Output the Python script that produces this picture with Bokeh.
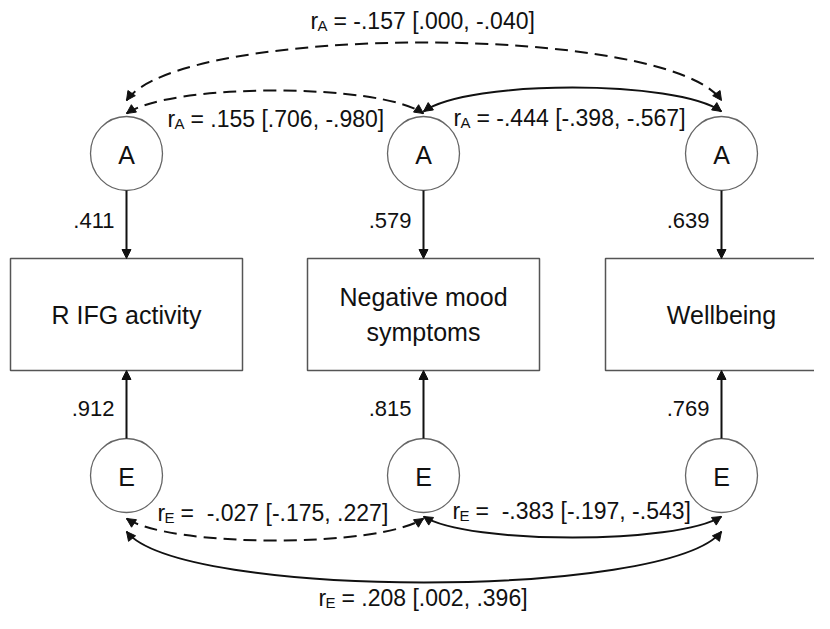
import numpy as np
from bokeh.plotting import figure
from bokeh.models import Range1d, Arrow, NormalHead
from bokeh.core.properties import value
from bokeh.embed import file_html
from bokeh.resources import INLINE

# ---------------- data ----------------
phenotypes = ["R IFG activity", "Negative mood\nsymptoms", "Wellbeing"]
a_paths = [0.411, 0.579, 0.639]
e_paths = [0.912, 0.815, 0.769]

rA_pairs = [(0, 2), (0, 1), (1, 2)]
rA_est = [-0.157, 0.155, -0.444]
rA_ci_lo = [0.000, 0.706, -0.398]
rA_ci_hi = [-0.040, -0.980, -0.567]
rA_significant = [False, False, True]

rE_pairs = [(0, 1), (1, 2), (0, 2)]
rE_est = [-0.027, -0.383, 0.208]
rE_ci_lo = [-0.175, -0.197, 0.002]
rE_ci_hi = [0.227, -0.543, 0.396]
rE_significant = [False, True, True]

# ---------------- layout ----------------
col_x = [126, 423, 721]
a_y, e_y, node_r = 153, 475, 36
box_y, box_w, box_h = 314, 232, 112
FONT = "Liberation Sans"
INK = "#111111"

# arc geometry: end y, peak y, label (x, y), control spread
rA_geom = [(100, 42, 310, 20, 0.09), (113, 90, 167, 118, 0.15), (111, 87, 453, 117, 0.15)]
rE_geom = [(518, 540, 157, 512, 0.15), (516, 537, 452, 510, 0.15), (531, 582, 318, 597, 0.09)]
rE_eq = ["=\u00a0 ", "=\u00a0 ", "= "]
rA_eq = ["= ", "= ", "= "]


def fmt(v):
    s = f"{v:.3f}"
    return s.replace("0.", ".", 1)


p = figure(width=814, height=613, output_backend="svg", toolbar_location=None,
           x_range=Range1d(0, 814), y_range=Range1d(613, 0),
           x_axis_type=None, y_axis_type=None, min_border=0)
p.grid.visible = False
p.outline_line_color = None
p.background_fill_color = "white"

# boxes
p.rect(x=col_x, y=[box_y] * 3, width=box_w, height=box_h, fill_color="white",
       line_color="#555555", line_width=1.5)
p.text(x=col_x, y=[box_y] * 3, text=phenotypes, text_align="center",
       text_baseline="middle", text_font=value(FONT), text_font_size="25px",
       text_color=INK, text_line_height=1.28)

# latent nodes
for yy, lab in [(a_y, "A"), (e_y, "E")]:
    p.ellipse(x=col_x, y=[yy] * 3, width=2 * node_r, height=2 * node_r + 2,
              fill_color="white", line_color="#666666", line_width=1.3)
    p.text(x=col_x, y=[yy + 1] * 3, text=[lab] * 3, text_align="center",
           text_baseline="middle", text_font=value(FONT), text_font_size="25px",
           text_color=INK)

# vertical paths
for i, cx in enumerate(col_x):
    p.add_layout(Arrow(x_start=cx, y_start=a_y + node_r + 1, x_end=cx, y_end=box_y - box_h / 2,
                       line_width=2, line_color=INK,
                       end=NormalHead(size=9, fill_color=INK, line_color=INK)))
    p.add_layout(Arrow(x_start=cx, y_start=e_y - node_r - 1, x_end=cx, y_end=box_y + box_h / 2,
                       line_width=2, line_color=INK,
                       end=NormalHead(size=9, fill_color=INK, line_color=INK)))
p.text(x=[c - 12 for c in col_x], y=[220] * 3, text=[fmt(v) for v in a_paths],
       text_align="right", text_baseline="middle", text_font=value(FONT),
       text_font_size="22px", text_color=INK)
p.text(x=[c - 12 for c in col_x], y=[408] * 3, text=[fmt(v) for v in e_paths],
       text_align="right", text_baseline="middle", text_font=value(FONT),
       text_font_size="22px", text_color=INK)


def arc(i0, i1, y_end, peak, dashed, k):
    x0, x1 = col_x[i0], col_x[i1]
    cy = (8 * peak - 2 * y_end) / 6
    dx = k * (x1 - x0)
    cx0, cx1 = x0 + dx, x1 - dx
    p.bezier(x0=x0, y0=y_end, x1=x1, y1=y_end, cx0=cx0, cy0=cy, cx1=cx1, cy1=cy,
             line_color=INK, line_width=2, line_dash="13 7" if dashed else "solid")
    for (ex, ey, qx, qy) in [(x0, y_end, cx0, cy), (x1, y_end, cx1, cy)]:
        d = np.array([ex - qx, ey - qy], dtype=float)
        d /= np.hypot(*d)
        p.add_layout(Arrow(x_start=ex - 4 * d[0], y_start=ey - 4 * d[1], x_end=ex, y_end=ey,
                           line_alpha=0,
                           end=NormalHead(size=9, fill_color=INK, line_color=INK)))


def corr_label(x, y, sub, body):
    p.text(x=[x], y=[y], text=["r"], text_align="left", text_baseline="middle",
           text_font=value(FONT), text_font_size="23px", text_color=INK)
    p.text(x=[x + 7], y=[y + 5], text=[sub], text_align="left", text_baseline="middle",
           text_font=value(FONT), text_font_size="15px", text_color=INK)
    p.text(x=[x + 23], y=[y], text=[body], text_align="left", text_baseline="middle",
           text_font=value(FONT), text_font_size="23px", text_color=INK)


for (i0, i1), est, lo, hi, sig, g, eq in zip(rA_pairs, rA_est, rA_ci_lo, rA_ci_hi,
                                            rA_significant, rA_geom, rA_eq):
    arc(i0, i1, g[0], g[1], not sig, g[4])
    corr_label(g[2], g[3], "A", f"{eq}{fmt(est)} [{fmt(lo)}, {fmt(hi)}]")

for (i0, i1), est, lo, hi, sig, g, eq in zip(rE_pairs, rE_est, rE_ci_lo, rE_ci_hi,
                                            rE_significant, rE_geom, rE_eq):
    arc(i0, i1, g[0], g[1], not sig, g[4])
    corr_label(g[2], g[3], "E", f"{eq}{fmt(est)} [{fmt(lo)}, {fmt(hi)}]")

open("out.html", "w").write(file_html(p, INLINE))
